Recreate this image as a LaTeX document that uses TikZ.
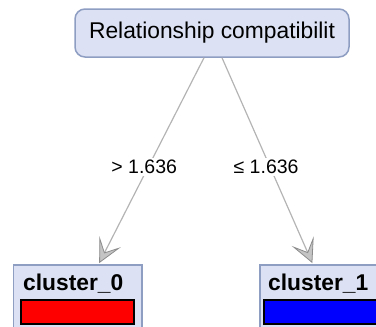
\documentclass[tikz,border=0pt]{standalone}
\usepackage{fontspec}
\setmainfont{Liberation Sans}
\usetikzlibrary{arrows.meta,positioning}
\definecolor{boxfill}{HTML}{DCE2F3}
\definecolor{boxline}{HTML}{8E9DC2}
\definecolor{edgegray}{HTML}{B4B4B4}
\definecolor{tipfill}{HTML}{C4C4C4}
\definecolor{tipline}{HTML}{8C8C8C}

\begin{document}
\begin{tikzpicture}[x=1pt,y=-1pt,
  splitbox/.style={draw=boxline,fill=boxfill,line width=1.5pt,rounded corners=10pt,
    minimum width=274pt,minimum height=48pt,inner sep=0pt,font=\fontsize{22.8}{26}\selectfont},
  leafbox/.style={draw=boxline,fill=boxfill,line width=1.5pt,minimum width=128pt,
    minimum height=80pt,inner sep=0pt,anchor=north west},
  leafname/.style={font=\fontsize{22.8}{26}\selectfont\bfseries,anchor=base west,inner sep=0pt},
  leafbar/.style={draw=black,line width=1.5pt,minimum width=113pt,minimum height=24pt,
    inner sep=0pt,anchor=north west},
  edge/.style={edgegray,line width=1.2pt,shorten >=1pt,
    -{Stealth[length=24pt,width=24pt,inset=12pt,fill=tipfill,color=tipline,line width=0.8pt]}},
  cut/.style={fill=white,text=black,inner sep=2pt,font=\fontsize{19.5}{22}\selectfont}]

  % page
  \useasboundingbox (0,0) rectangle (376,327);
  \clip (0,0) rectangle (376,327);

  % split node
  \node[splitbox] (root) at (212,33) {Relationship compatibilit};

  % leaves
  \node[leafbox] (c0) at (13,264) {};
  \node[leafname] (c0name) at ([shift={(10,26)}]c0.north west) {cluster\_0};
  \node[leafbar,fill=red] (c0bar) at ([shift={(7,35)}]c0.north west) {};

  \node[leafbox] (c1) at (259,264) {};
  \node[leafname] (c1name) at ([shift={(9,26)}]c1.north west) {cluster\_1};
  \node[leafbar,fill=blue,minimum width=120pt] (c1bar) at ([shift={(4,35)}]c1.north west) {};

  % edges
  \draw[edge] ([xshift=-8pt]root.south) -- node[cut,pos=0.53,xshift=-4pt] {> 1.636} ([xshift=21pt]c0.north);
  \draw[edge] ([xshift=10pt]root.south) -- node[cut,pos=0.53,xshift=-4pt] {≤ 1.636} ([xshift=-11pt]c1.north);
\end{tikzpicture}
\end{document}
